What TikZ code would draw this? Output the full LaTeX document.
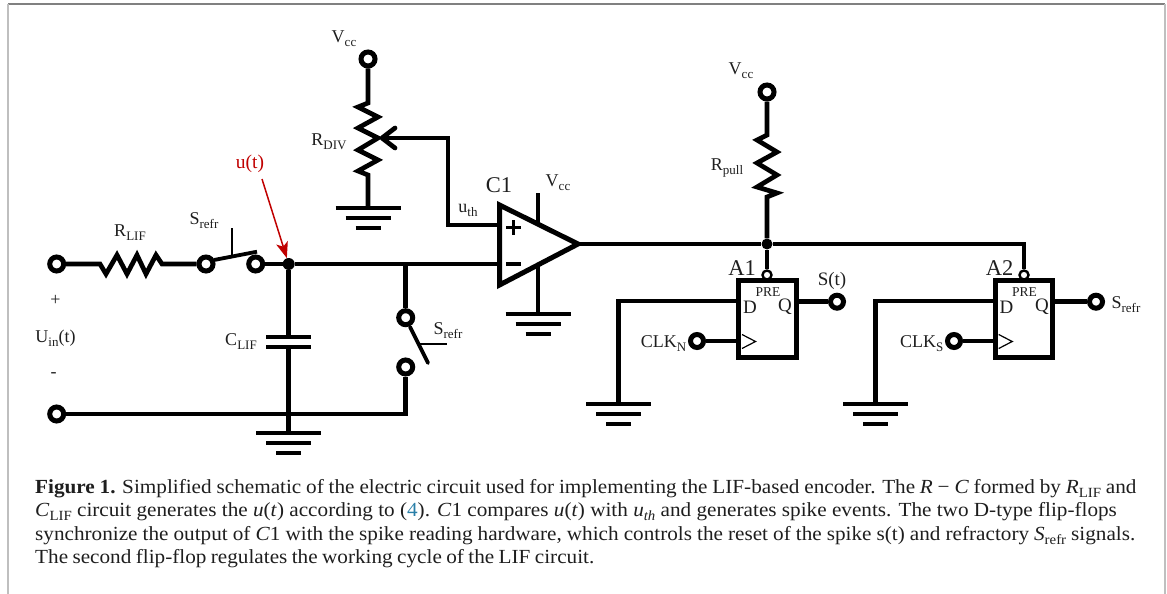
\documentclass[tikz,border=0pt]{standalone}
\usepackage{fontspec}
\setmainfont{Liberation Serif}
\newfontfamily\capfont[FakeStretch=1.06]{Liberation Serif}
\usetikzlibrary{arrows.meta}
\definecolor{txt}{HTML}{1E1E1E}
\definecolor{ured}{HTML}{C00000}
\definecolor{linkb}{HTML}{2A7FA8}
\newcommand{\dn}[1]{\raisebox{-0.22em}{\fontsize{13}{13}\selectfont #1}}
\newcommand{\dc}[1]{\raisebox{-0.2em}{\fontsize{14}{14}\selectfont #1}}
\tikzset{
  wire/.style={line width=4.7pt,black,line join=miter},
  term/.style={circle,draw=black,fill=white,line width=5pt,minimum size=14pt,inner sep=0pt},
  smallterm/.style={term,minimum size=13pt},
  bubble/.style={circle,draw=black,fill=white,line width=2.4pt,minimum size=9pt,inner sep=0pt},
  jdot/.style={circle,fill=black,minimum size=12pt,inner sep=0pt},
  lab/.style={inner sep=0pt,text=txt,font=\fontsize{18}{20}\selectfont},
  biglab/.style={inner sep=0pt,text=txt,font=\fontsize{22.5}{24}\selectfont},
  captext/.style={inner sep=0pt,anchor=base west,text=txt,font=\capfont\fontsize{20}{22}\selectfont},
  ffbox/.style={draw=black,fill=white,line width=5pt,minimum width=57.5pt,minimum height=77pt,inner sep=0pt},
  gndsym/.pic={
    \draw[line width=4.8pt] (-32.5,0) -- (32.5,0);
    \draw[line width=4.8pt] (-22.5,10) -- (22.5,10);
    \draw[line width=4.8pt] (-12.5,20) -- (12.5,20);
  },
  clockmark/.pic={
    \draw[line width=1.2pt,black,line join=miter] (0,-7) -- (13.5,0) -- (0,7);
  }
}
\begin{document}
\begin{tikzpicture}[x=1pt,y=-1pt]
\useasboundingbox (0,0) rectangle (1167,594);
% page frame
\draw[line width=1.4pt,black!50] (8,4) -- (1165,4);
\draw[line width=2pt,black!25] (8,4) -- (8,594);
\draw[line width=2pt,black!25] (1165,4) -- (1165,594);

% nodes of the left part
\node[term] (tp) at (56.7,264) {};
\node[term] (tm) at (56.7,414) {};
\node[term] (s1a) at (206,264) {};
\node[term] (s1b) at (255.7,264) {};
\node[jdot]  (j1) at (288.7,264) {};
\node[term] (s2a) at (405.7,317.7) {};
\node[term] (s2b) at (405.7,367) {};
\coordinate (rlifa) at (100,264);
\coordinate (rlifb) at (162,264);
\coordinate (capt) at (288.7,337);
\coordinate (capb) at (288.7,347);
\coordinate (gnd1) at (288.7,433);
\coordinate (j2) at (405.7,264);
\coordinate (j3) at (405.7,414);

% op amp
\coordinate (oa1) at (499.5,205);
\coordinate (oa2) at (578,244);
\coordinate (oa3) at (499.5,285);
\coordinate (oap) at (499.5,225);
\coordinate (oam) at (499.5,264);
\coordinate (oav) at (538,193);
\coordinate (oavb) at (538,224);
\coordinate (oag) at (538,265);
\coordinate (gnd2) at (538,314);

% divider
\node[term] (vcc1) at (368,59) {};
\coordinate (rdiva) at (368,103);
\coordinate (wiper) at (382,138);
\coordinate (gnd3) at (368,208);
\coordinate (uthb) at (448,138);
\coordinate (utha) at (448,225);

% right part
\node[term] (vcc2) at (767,92) {};
\node[jdot,minimum size=11pt] (j5) at (767,244) {};
\coordinate (rpa) at (767,135);

\node[ffbox] (ff1) at (767.3,318.5) {};
\node[ffbox] (ff2) at (1024,318.5) {};
\node[bubble] (pre1) at (767,275) {};
\node[bubble] (pre2) at (1024,275) {};
\node[smallterm] (qt1) at (837,301.7) {};
\node[smallterm] (qt2) at (1096,301.7) {};
\node[smallterm] (ck1) at (697,341) {};
\node[smallterm] (ck2) at (954,341) {};
\coordinate (d1) at (738.5,301);
\coordinate (d2) at (995.2,301);
\coordinate (dv1) at (618.5,301);
\coordinate (dv2) at (875.6,301);
\coordinate (gnd4) at (618.5,404);
\coordinate (gnd5) at (875.6,404);
\coordinate (q1) at (796,301.7);
\coordinate (q2) at (1053,301.7);
\coordinate (c1) at (738.5,341);
\coordinate (c2) at (995.2,341);

% wiring left
\draw[wire] (tp) -- (rlifa) -- ++(6,10) -- ++(11,-19) -- ++(10,19) -- ++(10,-19) -- ++(9,19) -- ++(10,-19) -- (rlifb) -- (s1a);
\draw[wire,line width=3.8pt] (214,260) -- (257,251.7);
\draw[line width=2.6pt,black] (232,228) -- (232,255);
\draw[wire] (s1b) -- (j1);
\draw[wire] (j1) -- (capt);
\draw[wire] (266,337) -- (311,337);
\draw[wire] (266,347) -- (311,347);
\draw[wire] (capb) -- (gnd1);
\pic at (gnd1) {gndsym};
\draw[wire] (tm) -- (j3) -- (s2b);
\draw[wire] (j2) -- (s2a);
\draw[wire,line width=3.8pt,line cap=round] (410,327) -- (428,363);
\draw[line width=2.6pt,black] (420,344) -- (447,344);
\draw[wire] (j1) -- (oam);

% red marker
\coordinate (utstart) at (262,179);
\draw[line width=1.5pt,ured,-{Stealth[length=16pt,width=12pt,inset=4pt]}] (utstart) -- (j1);

% op amp drawing
\draw[wire] (oav) -- (oavb);
\draw[wire] (oag) -- (gnd2);
\pic at (gnd2) {gndsym};
\draw[wire,line width=5pt,fill=white] (oa1) -- (oa2) -- (oa3) -- cycle;
\draw[line width=3.2pt,black] (506,227.5) -- (521,227.5) (513.5,220) -- (513.5,235);
\draw[line width=3.2pt,black] (506,264) -- (521,264);

% divider wiring
\draw[wire] (vcc1) -- (rdiva) -- ++(-10,4) -- ++(20,10) -- ++(-20,11) -- ++(20,10) -- ++(-20,12) -- ++(20,10) -- ++(-20,11) -- ++(10,4) -- (gnd3);
\pic at (gnd3) {gndsym};
\draw[wire] (oap) -- (utha) -- (uthb) -- (wiper);
\draw[wire,line cap=round,line join=round] (395,128) -- (wiper) -- (395,148);

% right wiring
\draw[wire] (oa2) -- (j5);
\draw[wire] (j5) -| (pre2);
\draw[wire] (j5) -- (pre1);
\draw[wire] (vcc2) -- (rpa) -- ++(-10,5) -- ++(20,12) -- ++(-20,11) -- ++(20,12) -- ++(-20,12) -- ++(20,6) -- ++(-10,4) -- (j5);
\draw[wire] (d1) -- (dv1) -- (gnd4);
\draw[wire] (d2) -- (dv2) -- (gnd5);
\pic at (gnd4) {gndsym};
\pic at (gnd5) {gndsym};
\draw[wire] (q1) -- (qt1);
\draw[wire] (q2) -- (qt2);
\draw[wire] (ck1) -- (c1);
\draw[wire] (ck2) -- (c2);
\pic at (742,341.5) {clockmark};
\pic at (998.7,341.5) {clockmark};

% labels
\node[lab] (lrlif) at (130,233) {R\dn{LIF}};
\node[lab] (ls1) at (204,221) {S\dn{refr}};
\node[lab,text=ured,font=\fontsize{19.5}{20}\selectfont] (ut) at (250,164) {u(t)};
\node[lab] (lplus) at (55.5,300) {+};
\node[lab] (luin) at (55.5,338) {U\dn{in}(t)};
\node[lab] (lminus) at (53.5,375) {-};
\node[lab] (lclif) at (241,342) {C\dn{LIF}};
\node[lab] (ls2) at (448,331) {S\dn{refr}};
\node[lab] (lrdiv) at (329,142) {R\dn{DIV}};
\node[lab] (lvcc1) at (344,39) {V\dn{cc}};
\node[biglab] (lc1) at (499,185) {C1};
\node[lab] (lvcc2) at (558,183) {V\dn{cc}};
\node[lab] (luth) at (468,210) {u\dn{th}};
\node[lab] (lvcc3) at (741,71) {V\dn{cc}};
\node[lab] (lrpull) at (727,168) {R\dn{pull}};
\node[biglab] (la1) at (742,268) {A1};
\node[biglab] (la2) at (999.5,268) {A2};
\node[lab,font=\fontsize{13.5}{14}\selectfont] (lpre1) at (768,292) {PRE};
\node[lab,font=\fontsize{13.5}{14}\selectfont] (lpre2) at (1024.5,292) {PRE};
\node[lab,font=\fontsize{19}{20}\selectfont] (ld1) at (750,307) {D};
\node[lab,font=\fontsize{19}{20}\selectfont] (lq1) at (785,307) {Q};
\node[lab,font=\fontsize{19}{20}\selectfont] (ld2) at (1006.5,307) {D};
\node[lab,font=\fontsize{19}{20}\selectfont] (lq2) at (1042,307) {Q};
\node[lab,font=\fontsize{19}{20}\selectfont] (lst) at (832,281) {S(t)};
\node[lab] (lsr) at (1126,305) {S\dn{refr}};
\node[lab,anchor=east] (lck1) at (686.5,344) {CLK\dn{N}};
\node[lab,anchor=east] (lck2) at (943.5,344) {CLK\dn{S}};

% caption
\node[captext] (cap1) at (35,493) {\spaceskip=4.85pt\textbf{Figure 1.} Simplified schematic of the electric circuit used for implementing the LIF-based encoder. The \textit{R} − \textit{C} formed by \textit{R}\dc{LIF} and};
\node[captext] (cap2) at (35,516.5) {\textit{C}\dc{LIF} circuit generates the \textit{u}(\textit{t}) according to (\textcolor{linkb}{4}). \textit{C}1 compares \textit{u}(\textit{t}) with \textit{u\dc{th}} and generates spike events. The two D-type flip-flops};
\node[captext] (cap3) at (35,540) {\spaceskip=5.05pt synchronize the output of \textit{C}1 with the spike reading hardware, which controls the reset of the spike s(t) and refractory \textit{S}\dc{refr} signals.};
\node[captext] (cap4) at (35,563) {\spaceskip=4.4pt The second flip-flop regulates the working cycle of the LIF circuit.};
\end{tikzpicture}
\end{document}
